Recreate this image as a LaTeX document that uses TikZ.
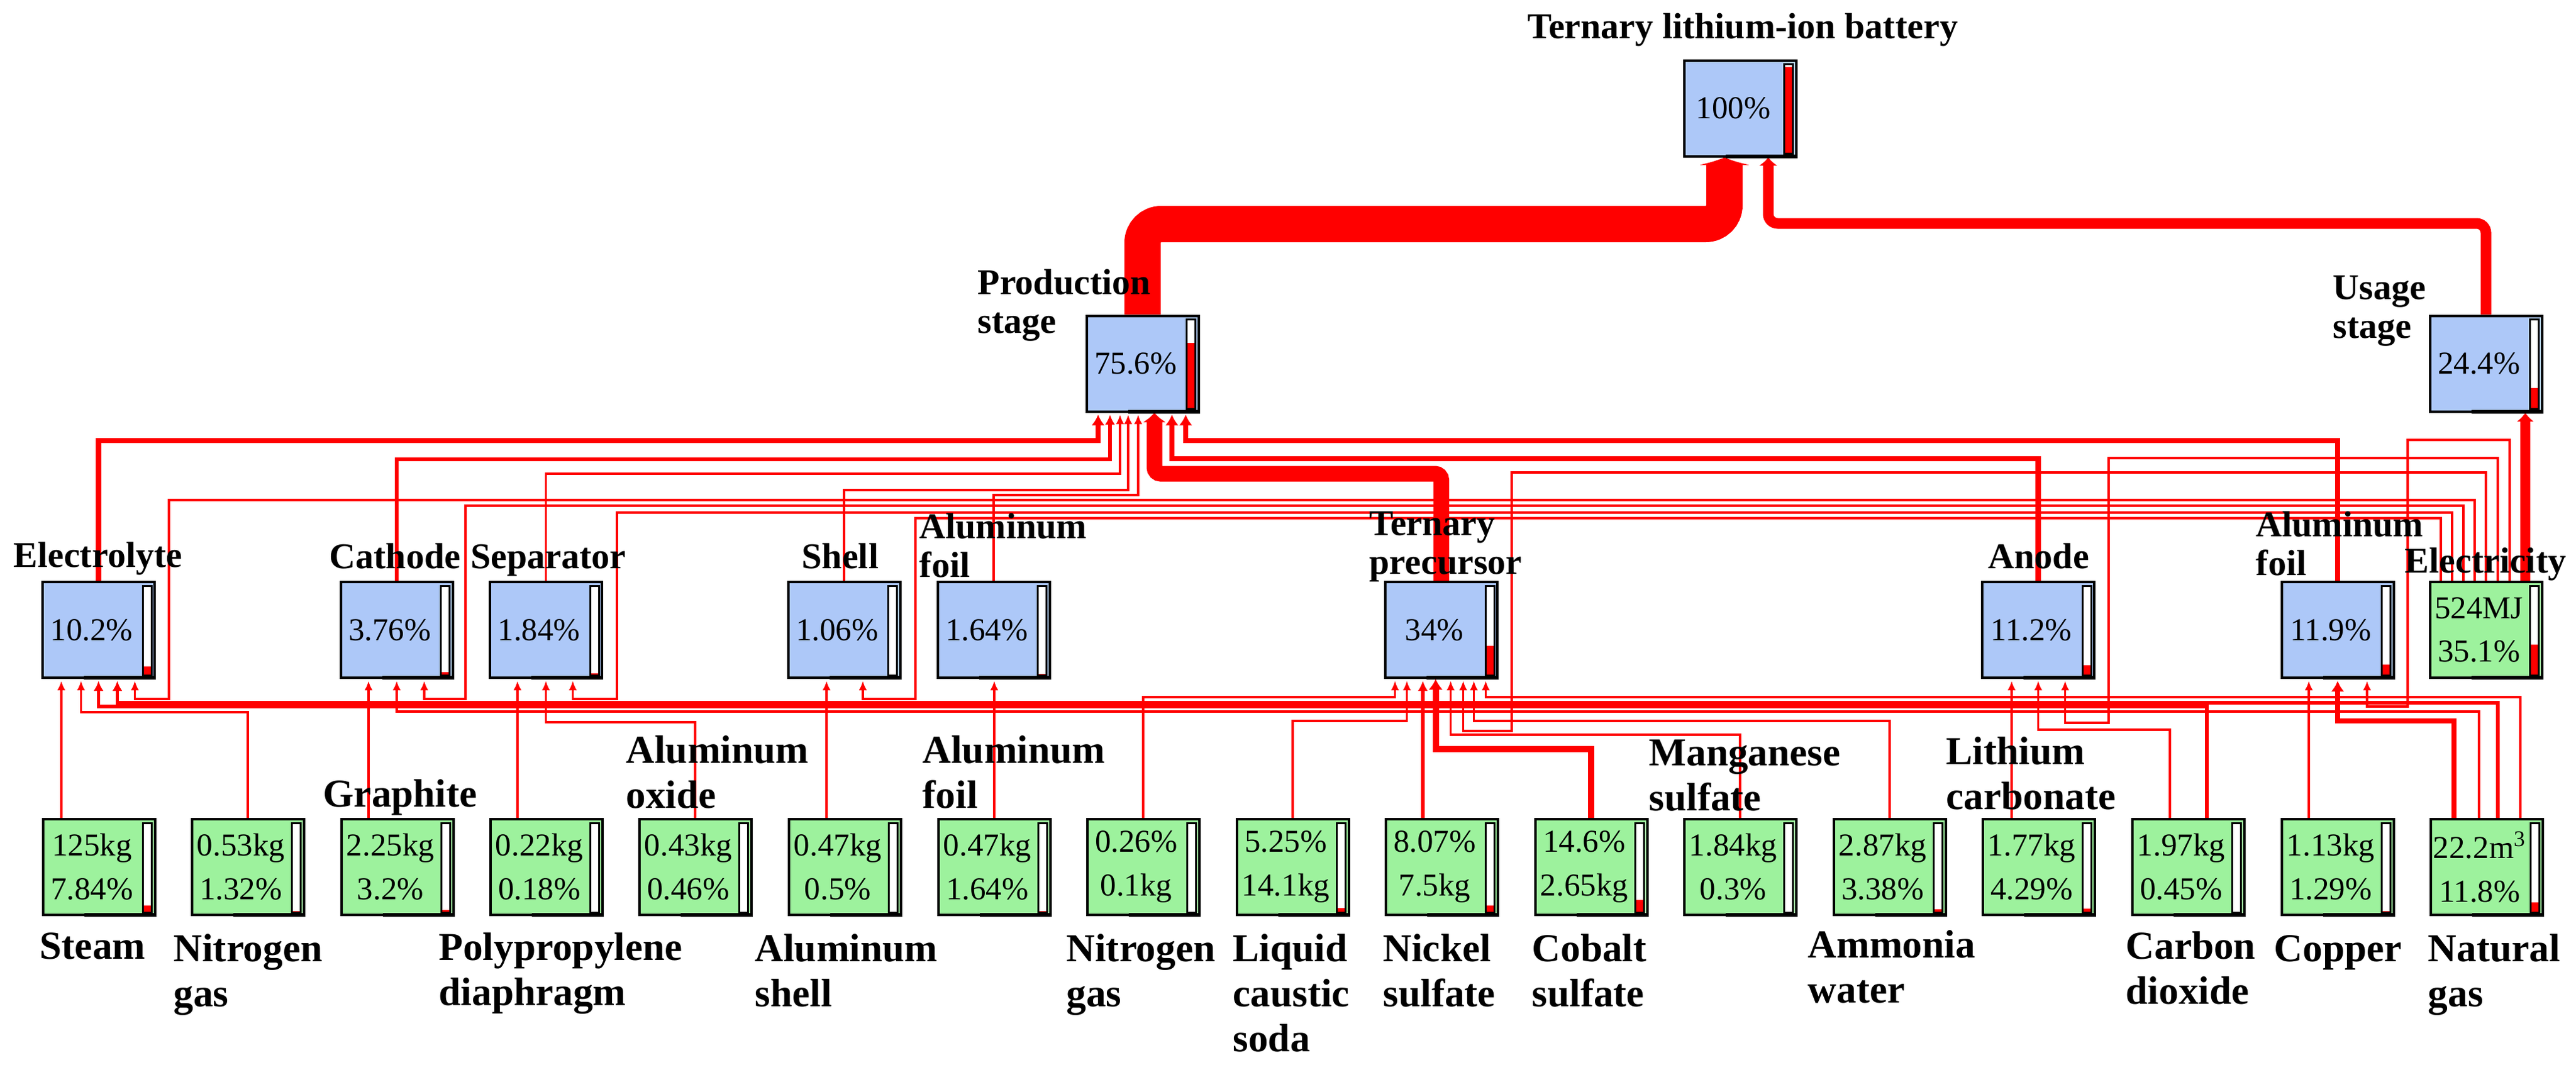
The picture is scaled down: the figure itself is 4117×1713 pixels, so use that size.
\documentclass[tikz,border=0pt]{standalone}
\usepackage{fontspec}
\setmainfont{Liberation Serif}
\usetikzlibrary{arrows.meta}
\definecolor{boxblue}{RGB}{173,200,248}
\definecolor{boxgreen}{RGB}{157,242,157}
\pgfdeclarelayer{back}
\pgfdeclarelayer{wires}
\pgfsetlayers{back,wires,main}
\newcommand\bxtext[1]{\hbox to 17.9mm{\hbox to 15.7mm{\hfil#1\hfil}\hfil}}
\newcommand\bxtwo[2]{\vtop{\hbox to 15.7mm{\hfil#1\hfil}\hbox to 15.7mm{\hfil#2\hfil}}}
\newcommand\lbltwo[2]{\vtop{\hbox{#1}\hbox{#2}}}
\newcommand\lblthree[3]{\vtop{\hbox{#1}\hbox{#2}\hbox{#3}}}
\newcommand\lvlbar[2]{%
  \fill[white] ([xshift=-2.1mm,yshift=-0.8mm]#1.north east) rectangle ([xshift=-0.7mm,yshift=0.6mm]#1.south east);
  \fill[red] ([xshift=-2.1mm,yshift=0.6mm]#1.south east) rectangle ([xshift=-0.7mm,yshift={(0.6+13.9*#2)*1mm}]#1.south east);
  \draw[line width=0.3mm] ([xshift=-2.1mm,yshift=-0.8mm]#1.north east) rectangle ([xshift=-0.7mm,yshift=0.6mm]#1.south east);
  \draw[line width=0.6mm] ([xshift=-11.5mm,yshift=0.2mm]#1.south east) -- ([yshift=0.2mm]#1.south east);
}
\tikzset{
  bxb/.style={draw=black, line width=0.4mm, fill=boxblue, minimum width=17.9mm, minimum height=15.3mm, inner sep=0pt, font=\fontsize{14.5}{19.9}\selectfont},
  bxg/.style={bxb, fill=boxgreen},
  lab/.style={anchor=base west, inner sep=0pt, font=\fontsize{16.5}{17.9}\selectfont\bfseries},
  labb/.style={anchor=base west, inner sep=0pt, font=\fontsize{18}{20.6}\selectfont\bfseries},
  fl/.style={draw=red, line width=0.35mm, -{Latex[length=1.5mm,width=1.3mm]}, shorten >=0.3mm},
  fm/.style={fl, line width=0.55mm, -{Latex[length=1.6mm,width=1.6mm]}},
  fk/.style={fl, line width=0.85mm, -{Latex[length=1.7mm,width=2.1mm]}},
}
\begin{document}
\begin{tikzpicture}[x=0.1mm, y=-0.1mm]
\begin{pgfonlayer}{back}
\fill[white] (0,0) rectangle (4117,1713);
\end{pgfonlayer}
\useasboundingbox (0,0) rectangle (4117,1713);

% ---------- boxes ----------
\node[bxb] (bat)  at (2781,173)  {\bxtext{100\%}};
\node[bxb] (prod) at (1826,581)  {\bxtext{75.6\%}};
\node[bxb] (use)  at (3973,581)  {\bxtext{24.4\%}};
\node[bxb] (ely)  at (157.5,1006.5) {\bxtext{10.2\%}};
\node[bxb] (cat)  at (634,1006.5)   {\bxtext{3.76\%}};
\node[bxb] (sep)  at (872.5,1006.5) {\bxtext{1.84\%}};
\node[bxb] (shl)  at (1349,1006.5)  {\bxtext{1.06\%}};
\node[bxb] (alf)  at (1588,1006.5)  {\bxtext{1.64\%}};
\node[bxb] (pre)  at (2303.5,1006.5){\bxtext{34\%}};
\node[bxb] (ano)  at (3257.5,1006.5){\bxtext{11.2\%}};
\node[bxb] (alr)  at (3736,1006.5)  {\bxtext{11.9\%}};
\node[bxg] (ele)  at (3973,1006.5)  {\bxtext{\bxtwo{524MJ}{35.1\%}}};
\node[bxg] (steam) at (158,1385.5)  {\bxtext{\bxtwo{125kg}{7.84\%}}};
\node[bxg] (n2a)  at (396,1385.5)   {\bxtext{\bxtwo{0.53kg}{1.32\%}}};
\node[bxg] (gra)  at (635,1385.5)   {\bxtext{\bxtwo{2.25kg}{3.2\%}}};
\node[bxg] (pp)   at (873,1385.5)   {\bxtext{\bxtwo{0.22kg}{0.18\%}}};
\node[bxg] (alo)  at (1111,1385.5)  {\bxtext{\bxtwo{0.43kg}{0.46\%}}};
\node[bxg] (als)  at (1350,1385.5)  {\bxtext{\bxtwo{0.47kg}{0.5\%}}};
\node[bxg] (alw)  at (1589,1385.5)  {\bxtext{\bxtwo{0.47kg}{1.64\%}}};
\node[bxg] (n2b)  at (1827,1385.5)  {\bxtext{\bxtwo{0.26\%}{0.1kg}}};
\node[bxg] (sod)  at (2066,1385.5)  {\bxtext{\bxtwo{5.25\%}{14.1kg}}};
\node[bxg] (nis)  at (2304,1385.5)  {\bxtext{\bxtwo{8.07\%}{7.5kg}}};
\node[bxg] (cos)  at (2543,1385.5)  {\bxtext{\bxtwo{14.6\%}{2.65kg}}};
\node[bxg] (mns)  at (2781,1385.5)  {\bxtext{\bxtwo{1.84kg}{0.3\%}}};
\node[bxg] (amw)  at (3020,1385.5)  {\bxtext{\bxtwo{2.87kg}{3.38\%}}};
\node[bxg] (lic)  at (3258,1385.5)  {\bxtext{\bxtwo{1.77kg}{4.29\%}}};
\node[bxg] (cod)  at (3497,1385.5)  {\bxtext{\bxtwo{1.97kg}{0.45\%}}};
\node[bxg] (cop)  at (3736,1385.5)  {\bxtext{\bxtwo{1.13kg}{1.29\%}}};
\node[bxg] (ngs)  at (3974,1385.5)  {\bxtext{\bxtwo{22.2m\textsuperscript{3}}{11.8\%}}};

\lvlbar{bat}{1.0}\lvlbar{prod}{0.756}\lvlbar{use}{0.244}
\lvlbar{ely}{0.102}\lvlbar{cat}{0.0376}\lvlbar{sep}{0.0184}\lvlbar{shl}{0.0106}
\lvlbar{alf}{0.0164}\lvlbar{pre}{0.34}\lvlbar{ano}{0.112}\lvlbar{alr}{0.119}\lvlbar{ele}{0.351}
\lvlbar{steam}{0.0784}\lvlbar{n2a}{0.0132}\lvlbar{gra}{0.032}\lvlbar{pp}{0.0018}
\lvlbar{alo}{0.0046}\lvlbar{als}{0.005}\lvlbar{alw}{0.0164}\lvlbar{n2b}{0.0026}
\lvlbar{sod}{0.0525}\lvlbar{nis}{0.0807}\lvlbar{cos}{0.146}\lvlbar{mns}{0.003}
\lvlbar{amw}{0.0338}\lvlbar{lic}{0.0429}\lvlbar{cod}{0.0045}\lvlbar{cop}{0.0129}\lvlbar{ngs}{0.118}

% ---------- labels ----------
\node[lab] (t0) at (2441,62) {Ternary lithium-ion battery};
\node[lab] (t1) at (1562,470) {\lbltwo{Production}{stage}};
\node[lab] (t2) at (3728,478) {\lbltwo{Usage}{stage}};
\node[lab] (t3) at (21,906) {Electrolyte};
\node[lab] (t4) at (526,908) {Cathode};
\node[lab] (t5) at (752,908) {Separator};
\node[lab] (t6) at (1281,908) {Shell};
\node[lab] (t7) at (1469,860) {\lbltwo{Aluminum}{foil}};
\node[lab] (t8) at (2188,855) {\lbltwo{Ternary}{precursor}};
\node[lab] (t9) at (3177,908) {Anode};
\node[lab] (t10) at (3605,857) {\lbltwo{Aluminum}{foil}};
\node[lab] (t11) at (3843,915) {Electricity};
\node[labb] (u1) at (516,1289) {Graphite};
\node[labb] (u2) at (1000,1219) {\lbltwo{Aluminum}{oxide}};
\node[labb] (u3) at (1474,1219) {\lbltwo{Aluminum}{foil}};
\node[labb] (u4) at (2635,1223) {\lbltwo{Manganese}{sulfate}};
\node[labb] (u5) at (3110,1221) {\lbltwo{Lithium}{carbonate}};
\node[labb] (v1) at (63,1532) {Steam};
\node[labb] (v2) at (277,1536) {\lbltwo{Nitrogen}{gas}};
\node[labb] (v3) at (701,1534) {\lbltwo{Polypropylene}{diaphragm}};
\node[labb] (v4) at (1206,1536) {\lbltwo{Aluminum}{shell}};
\node[labb] (v5) at (1704,1536) {\lbltwo{Nitrogen}{gas}};
\node[labb] (v6) at (1970,1536) {\lblthree{Liquid}{caustic}{soda}};
\node[labb] (v7) at (2210,1536) {\lbltwo{Nickel}{sulfate}};
\node[labb] (v8) at (2448,1536) {\lbltwo{Cobalt}{sulfate}};
\node[labb] (v9) at (2889,1530) {\lbltwo{Ammonia}{water}};
\node[labb] (v10) at (3397,1532) {\lbltwo{Carbon}{dioxide}};
\node[labb] (v11) at (3634,1536) {Copper};
\node[labb] (v12) at (3880,1536) {\lbltwo{Natural}{gas}};

% ---------- connectors ----------
\begin{pgfonlayer}{wires}
% to battery
\draw[red, line width=5.8mm, rounded corners=3mm, -{Latex[length=1.2mm,width=8.5mm]}] (prod.north) |- (2756,358) -- ([xshift=-2.5mm]bat.south);
\draw[red, line width=1.7mm, rounded corners=1.5mm, -{Latex[length=1.3mm,width=3mm]}] (use.north) |- (2826,357) -- ([xshift=4.5mm]bat.south);
% to production
\draw[fk] (ely.north) -- (ely.north |- 0,704) -| ([xshift=-7.1mm]prod.south);
\draw[fm] (cat.north) -- (cat.north |- 0,734) -| ([xshift=-5.2mm]prod.south);
\draw[fl] (sep.north) -- (sep.north |- 0,757) -| ([xshift=-3.6mm]prod.south);
\draw[fl] (shl.north) -- (shl.north |- 0,783) -| ([xshift=-2.3mm]prod.south);
\draw[fl] (alf.north) -- (alf.north |- 0,791) -| ([xshift=-0.7mm]prod.south);
\draw[red, line width=2.5mm, rounded corners=1mm, -{Latex[length=1.5mm,width=3.8mm]}] (pre.north) -- (pre.north |- 0,757) -| ([xshift=1.9mm]prod.south);
\draw[fk] (ano.north) -- (ano.north |- 0,733) -| ([xshift=4.7mm]prod.south);
\draw[fk] (alr.north) -- (alr.north |- 0,704) -| ([xshift=6.9mm]prod.south);
% from electricity
\draw[fl] ([xshift=-1.8mm]ele.north) -- ++(0,-129) -| (270,1117) -| ([xshift=5.8mm]ely.south);
\draw[fl] ([xshift=-3.6mm]ele.north) -- ++(0,-120) -| (744,1117) -| ([xshift=4.4mm]cat.south);
\draw[fl] ([xshift=-5.4mm]ele.north) -- ++(0,-109) -| (986,1117) -| ([xshift=4.3mm]sep.south);
\draw[fl] ([xshift=-7.2mm]ele.north) -- ++(0,-100) -| (1463,1117) -| ([xshift=3.0mm]shl.south);
\draw[fl] (ele.north) -- ++(0,-173) -| (2416,1168) -| ([xshift=3.5mm]pre.south);
\draw[fl] ([xshift=1.9mm]ele.north) -- ++(0,-196) -| (3370,1155) -| ([xshift=4.3mm]ano.south);
\draw[fl] ([xshift=3.8mm]ele.north) -- ++(0,-225) -| (3848,1129) -| ([xshift=4.7mm]alr.south);
\draw[red, line width=1.6mm, -{Latex[length=1.4mm,width=2.8mm]}] ([xshift=6.3mm]ele.north) -- ([xshift=6.3mm]ele.north |- use.south);
% raw materials
\draw[fl] ([xshift=-6mm]steam.north) -- ([xshift=-6mm]steam.north |- ely.south);
\draw[fl] (n2a.north) -- ++(0,-169) -| ([xshift=-2.8mm]ely.south);
\draw[fm] ([xshift=3mm]cod.north) -- ++(0,-178) -| (ely.south);
\draw[fm] ([xshift=1.8mm]ngs.north) -- ++(0,-184) -| ([xshift=3.0mm]ely.south);
\draw[fl] ([xshift=-4.6mm]gra.north) -- ([xshift=-4.6mm]gra.north |- cat.south);
\draw[fl] ([xshift=-1.2mm]ngs.north) -- ++(0,-170) -| (cat.south);
\draw[fl] ([xshift=-4.6mm]pp.north) -- ([xshift=-4.6mm]pp.north |- sep.south);
\draw[fl] (alo.north) -- ++(0,-153) -| (sep.south);
\draw[fl] ([xshift=-2.9mm]als.north) -- ([xshift=-2.9mm]als.north |- shl.south);
\draw[fl] (alw.north) -- (alw.north |- alf.south);
\draw[fl] (n2b.north) -- ++(0,-193) -| ([xshift=-7.4mm]pre.south);
\draw[fl] (sod.north) -- ++(0,-155) -| ([xshift=-5.5mm]pre.south);
\draw[fm] ([xshift=-3mm]nis.north) -- ([xshift=-3mm]nis.north |- pre.south);
\draw[red, line width=1.0mm, -{Latex[length=1.7mm,width=2.3mm]}] (cos.north) -- ++(0,-110) -| ([xshift=-0.9mm]pre.south);
\draw[fl] (mns.north) -- ++(0,-133) -| ([xshift=1.5mm]pre.south);
\draw[fl] (amw.north) -- ++(0,-155) -| ([xshift=5.2mm]pre.south);
\draw[fl] ([xshift=5.4mm]ngs.north) -- ++(0,-193) -| ([xshift=7.1mm]pre.south);
\draw[fl] ([xshift=-4.3mm]lic.north) -- ([xshift=-4.3mm]lic.north |- ano.south);
\draw[fl] ([xshift=-2.9mm]cod.north) -- ++(0,-141) -| (ano.south);
\draw[fl] ([xshift=-4.6mm]cop.north) -- ([xshift=-4.6mm]cop.north |- alr.south);
\draw[fk] ([xshift=-5.2mm]ngs.north) -- ++(0,-155) -| (alr.south);
\end{pgfonlayer}
\end{tikzpicture}
\end{document}
